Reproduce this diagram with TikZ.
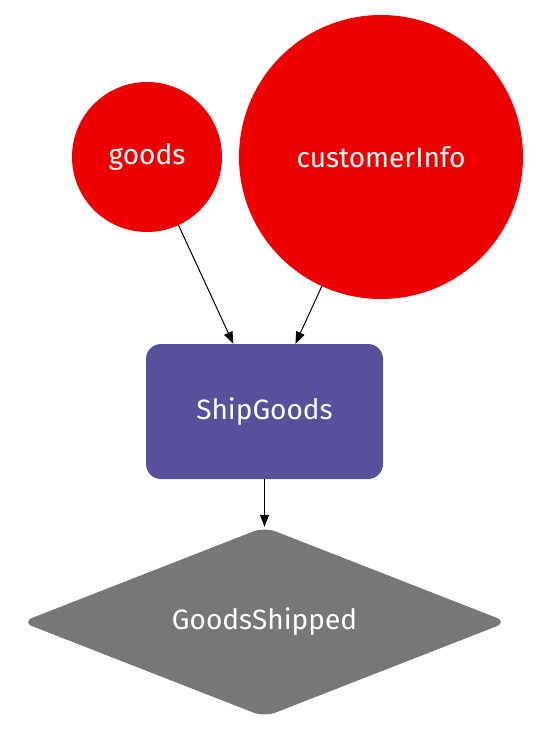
\documentclass[tikz,border=0pt]{standalone}
\usepackage{fontspec}
\setmainfont{Fira Sans}
\usetikzlibrary{arrows.meta,shapes.geometric}

\definecolor{datared}{HTML}{EE0000}
\definecolor{taskblue}{HTML}{56519A}
\definecolor{eventgray}{HTML}{777777}

\tikzset{
  data/.style={circle,fill=datared,inner sep=0pt,text=white},
  task/.style={rectangle,rounded corners=15pt,fill=taskblue,inner sep=0pt,
               minimum width=237pt,minimum height=135pt,text=white},
  event/.style={diamond,aspect=2.56,rounded corners=12pt,fill=eventgray,inner sep=0pt,
                minimum width=486pt,minimum height=190pt,text=white},
}

\begin{document}
\begin{tikzpicture}[x=1pt,y=-1pt,>={Triangle[length=12pt,width=9pt]},
                    font=\fontsize{28}{34}\selectfont]
   \useasboundingbox (0,0) rectangle (540,737);

   \node[data,minimum size=150pt] (goods) at (147,157) {goods};
   \node[data,minimum size=284pt] (info) at (381,157) {customerInfo};
   \node[task] (ship) at (264.5,411.5) {ShipGoods};
   \node[event] (shipped) at (264.5,622) {GoodsShipped};

   \draw [->,line width=1pt] (goods) -- (ship) ;
   \draw [->,line width=1pt] (info) -- (ship) ;
   \draw [->,line width=1pt] (ship) -- (shipped) ;
\end{tikzpicture}
\end{document}
